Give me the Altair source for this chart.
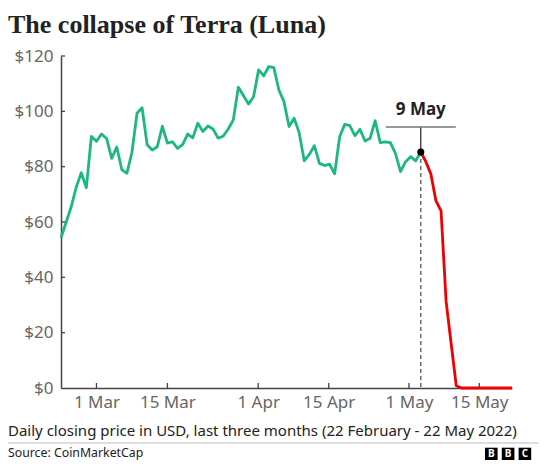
import altair as alt
import pandas as pd

# ---- data ----
DATES = pd.date_range("2022-02-22", "2022-05-22", freq="D").strftime("%Y-%m-%d").tolist()
PRICES = [
    54.3, 59.8, 65.4, 72.5, 77.8, 72.4, 90.9, 89.2, 91.8, 90.2,
    83.0, 87.1, 78.9, 77.6, 85.2, 99.3, 101.3, 87.9, 86.0, 87.2,
    94.6, 88.5, 89.0, 86.6, 88.0, 91.8, 90.4, 95.7, 92.7, 94.7,
    93.6, 90.3, 91.0, 93.6, 96.9, 108.7, 105.7, 102.6, 105.3, 115.0,
    112.8, 116.2, 115.8, 107.7, 103.5, 94.5, 97.5, 92.3, 82.1, 84.4,
    87.6, 81.2, 80.4, 80.9, 77.4, 90.9, 95.3, 94.8, 91.2, 93.5,
    89.3, 90.3, 96.6, 88.7, 89.0, 88.7, 84.8, 78.2, 81.8, 83.6,
    82.1, 85.3, 81.8, 77.3, 67.6, 64.0, 31.2, 15.9, 0.8, 0.0,
    0.0, 0.0, 0.0, 0.0, 0.0, 0.0, 0.0, 0.0, 0.0, 0.0,
]
EVENT_INDEX = 71
EVENT_LABEL = "9 May"
Y_TICKS = [0, 20, 40, 60, 80, 100, 120]
X_TICKS = ["2022-03-01T00:00Z", "2022-03-15T00:00Z", "2022-04-01T22:00Z",
           "2022-04-15T20:00Z", "2022-05-01T16:00Z", "2022-05-15T13:00Z"]
TITLE = "The collapse of Terra (Luna)"
SUBTITLE = "Daily closing price in USD, last three months (22 February - 22 May 2022)"
SOURCE = "Source: CoinMarketCap"
LOGO = ["B", "B", "C"]

# ---- styles ----
W, H = 451, 332
SANS = "Noto Sans"
SERIF = "Liberation Serif"
GREEN = "#1cb782"
RED = "#ee0000"
AX = "#444444"
LAB = "#666666"
INK = "#222222"


def ms(s):
    return int(pd.Timestamp(s).value // 10**6)


x_tick_ms = [ms(s) for s in X_TICKS]
x_domain = [ms(DATES[0] + "T00:00Z"), ms(DATES[-1] + "T00:00Z")]

xscale = alt.Scale(type="utc", domain=x_domain)
yscale = alt.Scale(domain=[0, 120], nice=False)

green_df = pd.DataFrame({"date": DATES[:EVENT_INDEX + 1], "price": PRICES[:EVENT_INDEX + 1]})
red_df = pd.DataFrame({"date": DATES[EVENT_INDEX:], "price": PRICES[EVENT_INDEX:]})
event_df = pd.DataFrame({"date": [DATES[EVENT_INDEX]], "price": [PRICES[EVENT_INDEX]],
                         "base": [0], "label": [EVENT_LABEL]})
xt_df = pd.DataFrame({"date": x_tick_ms})
yt_df = pd.DataFrame({"price": Y_TICKS[1:]})
one = pd.DataFrame({"k": [0]})

x_axis = alt.Axis(values=x_tick_ms, labelExpr="utcFormat(datum.value, '%-d %b')",
                  ticks=False, tickSize=0, labelPadding=6, labelFont=SANS, labelFontSize=17,
                  labelColor=LAB, domainColor=AX, domainWidth=1.5, grid=False, title=None,
                  labelFlush=False)
y_axis = alt.Axis(values=Y_TICKS, labelExpr="'$' + datum.value", ticks=False, tickSize=0,
                  labelPadding=8, labelFont=SANS, labelFontSize=17, labelColor=LAB,
                  domainColor=AX, domainWidth=1.5, grid=False, title=None)

X = alt.X("date:T", scale=xscale, axis=x_axis)
Y = alt.Y("price:Q", scale=yscale, axis=y_axis)

green = alt.Chart(green_df).mark_line(color=GREEN, strokeWidth=2.8, strokeJoin="round").encode(x=X, y=Y)
red = alt.Chart(red_df).mark_line(color=RED, strokeWidth=2.8, strokeJoin="round").encode(x=X, y=Y)

xticks = alt.Chart(xt_df).mark_rule(color=AX, strokeWidth=1.3).encode(
    x=X, y=alt.value(H), y2=alt.value(H - 5))
yticks = alt.Chart(yt_df).mark_rule(color=AX, strokeWidth=1.3).encode(
    y=Y, x=alt.value(0), x2=alt.value(4))

dashed = alt.Chart(event_df).mark_rule(color="#555555", strokeWidth=1.3, strokeDash=[4, 3]).encode(
    x=X, y=Y, y2="base:Q")
stem = alt.Chart(event_df).mark_rule(color=INK, strokeWidth=1.2).encode(
    x=X, y=Y, y2=alt.value(71))
bar = alt.Chart(event_df).mark_rule(color="#777777", strokeWidth=1.3, xOffset=-35, x2Offset=35).encode(
    x=X, x2="date:T", y=alt.value(71))
label = alt.Chart(event_df).mark_text(font=SANS, fontSize=17, fontWeight="bold", color=INK,
                                      align="center", baseline="alphabetic").encode(
    x=X, y=alt.value(59), text="label:N")
dot = alt.Chart(event_df).mark_circle(color="#000000", size=50, opacity=1).encode(x=X, y=Y)


def text_layer(txt, x, y, size, font=SANS, weight="normal", color=INK):
    return alt.Chart(pd.DataFrame({"t": [txt]})).mark_text(
        font=font, fontSize=size, fontWeight=weight, color=color,
        align="left", baseline="alphabetic").encode(
        x=alt.value(x), y=alt.value(y), text="t:N")


title = text_layer(TITLE, -53, -23, 26, font=SERIF, weight="bold")
subtitle = text_layer(SUBTITLE, -53, 380, 15)
source = text_layer(SOURCE, -53, 401, 12.3)
sep = alt.Chart(one).mark_rule(color="#bbbbbb", strokeWidth=1.2).encode(
    x=alt.value(-53), x2=alt.value(478), y=alt.value(387))

logo_layers = []
for i, letter in enumerate(LOGO):
    cx = 430.3 + i * 16.8
    logo_layers.append(alt.Chart(one).mark_rect(color="#000000").encode(
        x=alt.value(cx - 6.3), x2=alt.value(cx + 6.3), y=alt.value(391.7), y2=alt.value(404)))
    logo_layers.append(alt.Chart(pd.DataFrame({"t": [letter]})).mark_text(
        font=SANS, fontSize=10, fontWeight="bold", color="#ffffff",
        align="center", baseline="middle").encode(
        x=alt.value(cx), y=alt.value(398.3), text="t:N"))

chart = alt.layer(
    green, red, xticks, yticks, dashed, stem, bar, dot, label,
    title, subtitle, source, sep, *logo_layers
).properties(
    width=W, height=H,
    autosize=alt.AutoSizeParams(type="none"),
    padding={"left": 53, "top": 48, "right": 27, "bottom": 73},
    background="white",
).configure_view(stroke=None)

chart.save("out.html", embed_options={"renderer": "svg", "actions": False})
